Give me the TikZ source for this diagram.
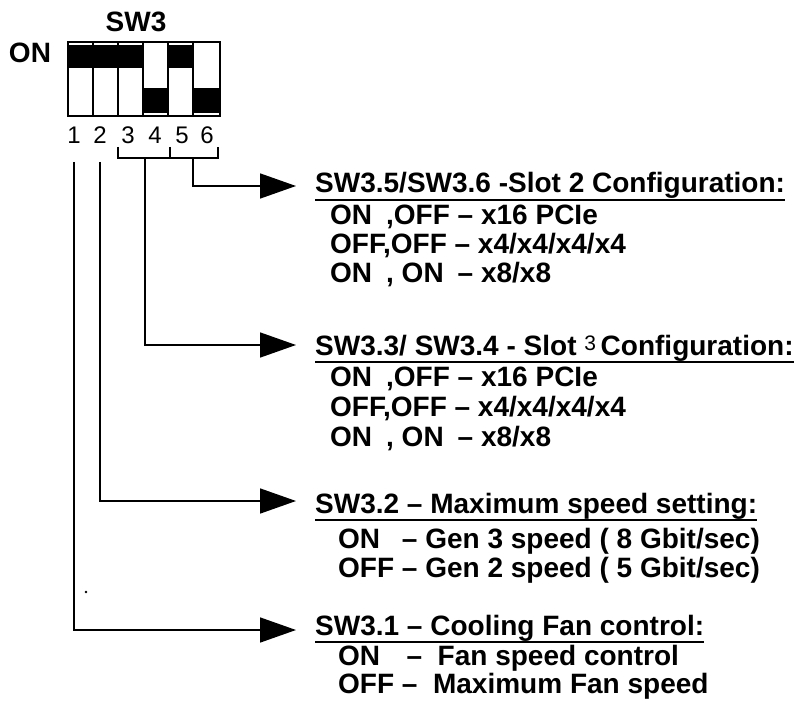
\documentclass[tikz,border=0pt]{standalone}
\usepackage{fontspec}
\setmainfont{Liberation Sans}
\usetikzlibrary{arrows.meta}
\newlength{\offw}
\newlength{\offsw}
\newcommand{\bigbf}{\fontsize{28}{30}\selectfont\bfseries}
\begin{document}
\settowidth{\offw}{\bigbf OFF}%
\settowidth{\offsw}{\bigbf OFF }%
\begin{tikzpicture}[x=1pt,y=-1pt,
  conn/.style={line width=1.6pt,-{Triangle[length=36pt,width=25pt]}},
  wire/.style={line width=1.6pt},
  head/.style={inner sep=0pt,anchor=base west,font=\bigbf},
  body/.style={inner sep=0pt,anchor=base west,font=\bigbf},
  lab/.style={inner sep=0pt,font=\bigbf},
  digit/.style={inner sep=0pt,font=\fontsize{24}{26}\selectfont},
  slot/.style={line width=2pt},
  knob/.style={fill=black}]
\useasboundingbox (0,0) rectangle (799,711);
% DIP switch
\node[lab] (sw) at (136,22) {SW3};
\node[lab] (on) at (30,53) {ON};
\fill[knob] (68,45) rectangle (143,68);
\fill[knob] (168,45) rectangle (193,68);
\fill[knob] (143,88) rectangle (168,113);
\fill[knob] (193,88) rectangle (220,113);
\foreach \a/\b in {68/93,93/118,118/143,143/168,168/193,193/220}
  \draw[slot] (\a,42) rectangle (\b,116);
\draw[line width=2.6pt] (68,42) rectangle (220,116);
% digits
\node[digit] (d1) at (74,135) {1};
\node[digit] (d2) at (100,135) {2};
\node[digit] (d3) at (128,135) {3};
\node[digit] (d4) at (155,135) {4};
\node[digit] (d5) at (182,135) {5};
\node[digit] (d6) at (207,135) {6};
% bracket
\coordinate (bl) at (118,147);
\coordinate (bm) at (170,147);
\coordinate (br) at (218,147);
\draw[line width=1.3pt] (bl) -- (118,158) -- (218,158) -- (br);
\draw[line width=1.3pt] (bm) -- (170,158);
\coordinate (b34) at (145,158);
\coordinate (b56) at (193,158);
\coordinate (s1) at (74,162);
\coordinate (s2) at (100,162);
% arrow targets
\coordinate (tA) at (296,186);
\coordinate (tB) at (296,345);
\coordinate (tC) at (296,501);
\coordinate (tD) at (296,630);
\draw[conn] (b56) |- (tA);
\draw[conn] (b34) |- (tB);
\draw[conn] (s2) |- (tC);
\draw[conn] (s1) |- (tD);
\fill (86,592) circle (1.3);
% block 1
\node[head] (h1) at (315,193) {SW3.5/SW3.6 -Slot 2 Configuration:};
\draw[wire,line width=1.5pt] ([yshift=-7pt]h1.base west) -- ([yshift=-7pt]h1.base east);
\node[body] (l11) at (330,225) {\makebox[\offw][l]{ON},OFF – x16 PCIe};
\node[body] (l12) at (330,253) {OFF,OFF – x4/x4/x4/x4};
\node[body] (l13) at (330,282) {\makebox[\offw][l]{ON},\makebox[\offw][l]{ ON} – x8/x8};
% block 2
\node[head] (h2) at (315,355) {SW3.3/ SW3.4 - Slot \raisebox{5pt}{\fontsize{21}{22}\selectfont\mdseries 3}\,Configuration:};
\draw[wire,line width=1.5pt] ([yshift=-7pt]h2.base west) -- ([yshift=-7pt]h2.base east);
\node[body] (l21) at (330,386) {\makebox[\offw][l]{ON},OFF – x16 PCIe};
\node[body] (l22) at (330,416) {OFF,OFF – x4/x4/x4/x4};
\node[body] (l23) at (330,446) {\makebox[\offw][l]{ON},\makebox[\offw][l]{ ON} – x8/x8};
% block 3
\node[head] (h3) at (315,513) {SW3.2 – Maximum speed setting:};
\draw[wire,line width=1.5pt] ([yshift=-7pt]h3.base west) -- ([yshift=-7pt]h3.base east);
\node[body] (l31) at (338,548) {\makebox[\offsw][l]{ON}– Gen 3 speed ( 8 Gbit/sec)};
\node[body] (l32) at (338,577) {\makebox[\offsw][l]{OFF}– Gen 2 speed ( 5 Gbit/sec)};
% block 4
\node[head] (h4) at (315,635) {SW3.1 – Cooling Fan control:};
\draw[wire,line width=1.5pt] ([yshift=-7pt]h4.base west) -- ([yshift=-7pt]h4.base east);
\node[body] (l41) at (338,665) {\makebox[\offsw][l]{ON}\,–\ \ Fan speed control};
\node[body] (l42) at (338,693) {\makebox[\offsw][l]{OFF}–\ \ Maximum Fan speed};
\end{tikzpicture}
\end{document}
